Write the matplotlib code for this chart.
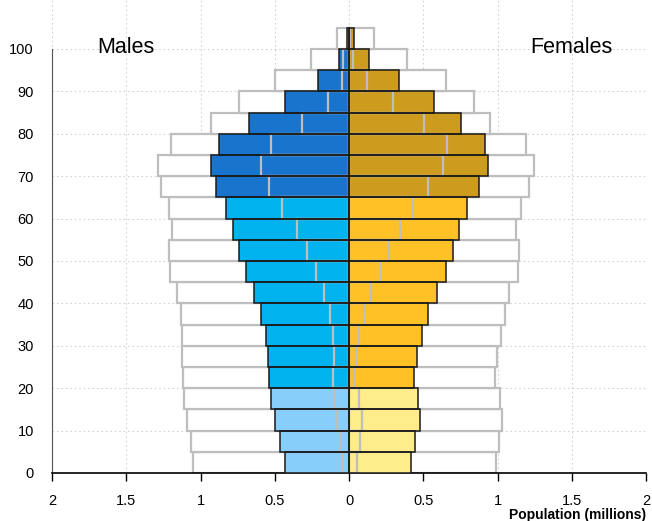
import numpy as np
import matplotlib.pyplot as plt

plt.rcParams['font.family'] = ['Liberation Sans', 'DejaVu Sans']

# age groups (lower bound of each 5-year band)
ages = np.arange(0, 105, 5)

# population (millions)
male = [0.433, 0.464, 0.496, 0.525, 0.538, 0.545, 0.561, 0.592, 0.637, 0.695, 0.742,
        0.778, 0.826, 0.895, 0.929, 0.877, 0.675, 0.433, 0.211, 0.067, 0.011]
female = [0.415, 0.446, 0.478, 0.466, 0.440, 0.460, 0.489, 0.534, 0.590, 0.651, 0.702,
          0.742, 0.796, 0.877, 0.937, 0.917, 0.754, 0.570, 0.339, 0.137, 0.034]
# outline bars (comparison population)
male_cmp = [1.050, 1.061, 1.088, 1.110, 1.115, 1.122, 1.126, 1.133, 1.157, 1.205, 1.211,
            1.189, 1.211, 1.265, 1.283, 1.200, 0.931, 0.738, 0.498, 0.256, 0.083]
female_cmp = [0.989, 1.009, 1.032, 1.018, 0.985, 0.994, 1.023, 1.048, 1.077, 1.135, 1.144,
              1.124, 1.155, 1.213, 1.247, 1.191, 0.949, 0.841, 0.651, 0.388, 0.170]
# inner marks inside the coloured bars
male_in = [0.047, 0.061, 0.081, 0.099, 0.105, 0.103, 0.110, 0.128, 0.166, 0.222, 0.285,
           0.352, 0.449, 0.536, 0.594, 0.527, 0.318, 0.143, 0.045, 0.038, 0.005]
female_in = [0.056, 0.076, 0.087, 0.065, 0.034, 0.045, 0.065, 0.099, 0.146, 0.209, 0.271,
             0.343, 0.433, 0.530, 0.630, 0.657, 0.505, 0.294, 0.121, 0.030, 0.010]

male = np.array(male)
female = np.array(female)
male_cmp = np.array(male_cmp)
female_cmp = np.array(female_cmp)
male_in = np.array(male_in)
female_in = np.array(female_in)


def band_colors(young, mid, old):
    return [young if a < 20 else (mid if a < 65 else old) for a in ages]


mcols = band_colors('#87CEFA', '#00B2EE', '#1874CD')
fcols = band_colors('#FFEC8B', '#FFC125', '#CD9B1D')

fig = plt.figure(figsize=(6.52, 5.21), dpi=100)
ax = fig.add_axes([52 / 652, (521 - 473) / 521, (646 - 52) / 652, 473 / 521])

grey = '#BEBEBE'
kw = dict(height=5, align='edge')
# outline bars
ax.barh(ages, -male_cmp, color='white', edgecolor=grey, linewidth=1.6, zorder=2, **kw)
ax.barh(ages, female_cmp, color='white', edgecolor=grey, linewidth=1.6, zorder=2, **kw)
# coloured bars
ax.barh(ages, -male, color=mcols, linewidth=0, zorder=3, **kw)
ax.barh(ages, female, color=fcols, linewidth=0, zorder=3, **kw)
# inner marks
ax.barh(ages, -male_in, color='none', edgecolor=grey, linewidth=1.6, zorder=4, **kw)
ax.barh(ages, female_in, color='none', edgecolor=grey, linewidth=1.6, zorder=4, **kw)
# black outlines
ax.barh(ages, -male, color='none', edgecolor='#1a1a1a', linewidth=1.1, zorder=5, **kw)
ax.barh(ages, female, color='none', edgecolor='#1a1a1a', linewidth=1.1, zorder=5, **kw)

ax.set_xlim(-2, 2)
ax.set_ylim(0, 473 / 4.24)

xt = np.arange(-2, 2.01, 0.5)
ax.set_xticks(xt)
ax.set_xticklabels(['%g' % abs(v) for v in xt])
ax.set_yticks(np.arange(0, 101, 10))
ax.grid(True, color='#D3D3D3', linestyle=(0, (1.5, 2.5)), linewidth=0.8, zorder=0)
ax.set_axisbelow(True)

ax.tick_params(axis='x', length=6, width=1, pad=9, labelsize=10.5, colors='black')
ax.tick_params(axis='y', length=0, pad=13, labelsize=10.5)

for s in ['top', 'right']:
    ax.spines[s].set_visible(False)
ax.spines['left'].set_bounds(0, 100)
ax.spines['left'].set_color('#555555')
ax.spines['bottom'].set_linewidth(1.2)

ax.text(-1.5, 100.3, 'Males', ha='center', va='center', fontsize=15.5)
ax.text(1.5, 100.3, 'Females', ha='center', va='center', fontsize=15.5)

fig.text(646 / 652, 1 - 515 / 521, 'Population (millions)', ha='right', va='center',
         fontsize=10, fontweight='bold')

fig.savefig('out.png', dpi=100)
